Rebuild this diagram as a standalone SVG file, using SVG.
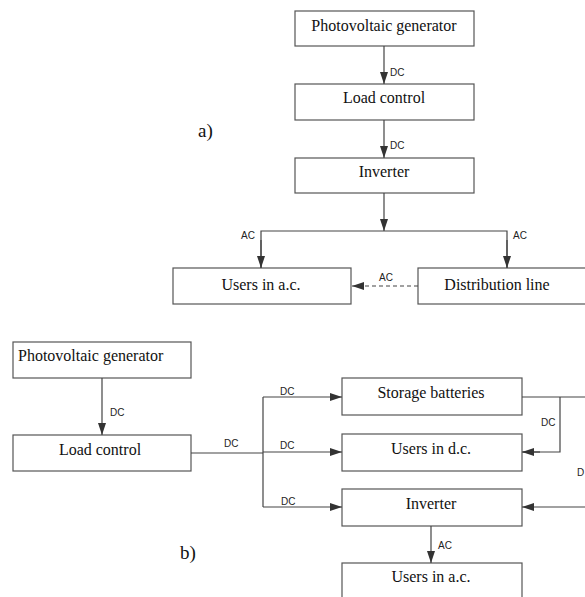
<svg xmlns="http://www.w3.org/2000/svg" width="585" height="597" viewBox="0 0 585 597">
<style>
.box{fill:#fff;stroke:#555;stroke-width:1.2}
.t{font-family:"Liberation Serif","Times New Roman",serif;font-size:16px;fill:#111;text-anchor:middle}
.l{font-family:"Liberation Sans",Arial,sans-serif;font-size:10px;fill:#222}
.c{fill:none;stroke:#444;stroke-width:1.2}
.d{fill:none;stroke:#444;stroke-width:1.2;stroke-dasharray:4 3}
.lab{font-family:"Liberation Serif","Times New Roman",serif;font-size:19px;fill:#111}
</style>
<defs>
<marker id="ah" viewBox="0 0 12 8" refX="12" refY="4" markerWidth="12" markerHeight="8" markerUnits="userSpaceOnUse" orient="auto">
<path d="M0,0 L12,4 L0,8 z" fill="#333"/>
</marker>
</defs>
<rect width="585" height="597" fill="#fff"/>

<!-- a) -->
<text class="lab" x="198" y="137">a)</text>
<g id="a_pv"><rect class="box" x="295" y="11" width="179" height="35"/><text class="t" x="384" y="31">Photovoltaic generator</text></g>
<g id="a_load"><rect class="box" x="295" y="84" width="179" height="36"/><text class="t" x="384" y="103">Load control</text></g>
<g id="a_inv"><rect class="box" x="295" y="158" width="179" height="35"/><text class="t" x="384" y="177">Inverter</text></g>
<g id="a_users"><rect class="box" x="173" y="268" width="178" height="36"/><text class="t" x="261" y="290">Users in a.c.</text></g>
<g id="a_dist"><rect class="box" x="418" y="268" width="180" height="36"/><text class="t" x="497" y="290">Distribution line</text></g>

<!-- b) -->
<text class="lab" x="180" y="559">b)</text>
<g id="b_pv"><rect class="box" x="13" y="342" width="178" height="36"/><text class="t" x="18" y="361" style="text-anchor:start">Photovoltaic generator</text></g>
<g id="b_load"><rect class="box" x="13" y="435" width="178" height="36"/><text class="t" x="100" y="455">Load control</text></g>
<g id="b_stor"><rect class="box" x="342" y="378" width="180" height="37"/><text class="t" x="431" y="398">Storage batteries</text></g>
<g id="b_udc"><rect class="box" x="342" y="434" width="180" height="37"/><text class="t" x="431" y="454">Users in d.c.</text></g>
<g id="b_inv"><rect class="box" x="342" y="489" width="180" height="37"/><text class="t" x="431" y="509">Inverter</text></g>
<g id="b_uac"><rect class="box" x="342" y="563" width="180" height="50"/><text class="t" x="431" y="582">Users in a.c.</text></g>

<g id="connectors">
<!-- a -->
<line class="c" x1="384" y1="46" x2="384" y2="84" marker-end="url(#ah)"/>
<text class="l" x="390" y="76">DC</text>
<line class="c" x1="384" y1="120" x2="384" y2="158" marker-end="url(#ah)"/>
<text class="l" x="390" y="149">DC</text>
<line class="c" x1="384" y1="193" x2="384" y2="231" marker-end="url(#ah)"/>
<polyline class="c" points="261,268 261,231 507,231 507,268"/>
<line class="c" x1="261" y1="240" x2="261" y2="268" marker-end="url(#ah)"/>
<line class="c" x1="507" y1="240" x2="507" y2="268" marker-end="url(#ah)"/>
<text class="l" x="241" y="239">AC</text>
<text class="l" x="513" y="239">AC</text>
<line class="d" x1="418" y1="286" x2="352" y2="286" marker-end="url(#ah)"/>
<text class="l" x="379" y="281">AC</text>
<!-- b -->
<line class="c" x1="102" y1="378" x2="102" y2="435" marker-end="url(#ah)"/>
<text class="l" x="110" y="416">DC</text>
<line class="c" x1="191" y1="453" x2="263" y2="453"/>
<text class="l" x="224" y="447">DC</text>
<line class="c" x1="263" y1="397" x2="263" y2="507"/>
<line class="c" x1="263" y1="397" x2="342" y2="397" marker-end="url(#ah)"/>
<line class="c" x1="263" y1="452" x2="342" y2="452" marker-end="url(#ah)"/>
<line class="c" x1="263" y1="507" x2="342" y2="507" marker-end="url(#ah)"/>
<text class="l" x="280" y="395">DC</text>
<text class="l" x="280" y="449">DC</text>
<text class="l" x="281" y="505">DC</text>
<line class="c" x1="522" y1="397" x2="590" y2="397"/>
<polyline class="c" points="560,397 560,452 523,452"/>
<line class="c" x1="540" y1="452" x2="522" y2="452" marker-end="url(#ah)"/>
<text class="l" x="541" y="426">DC</text>
<text class="l" x="577" y="476">D</text>
<line class="c" x1="590" y1="507" x2="522" y2="507" marker-end="url(#ah)"/>
<line class="c" x1="431" y1="526" x2="431" y2="563" marker-end="url(#ah)"/>
<text class="l" x="438" y="549">AC</text>
</g>
</svg>
